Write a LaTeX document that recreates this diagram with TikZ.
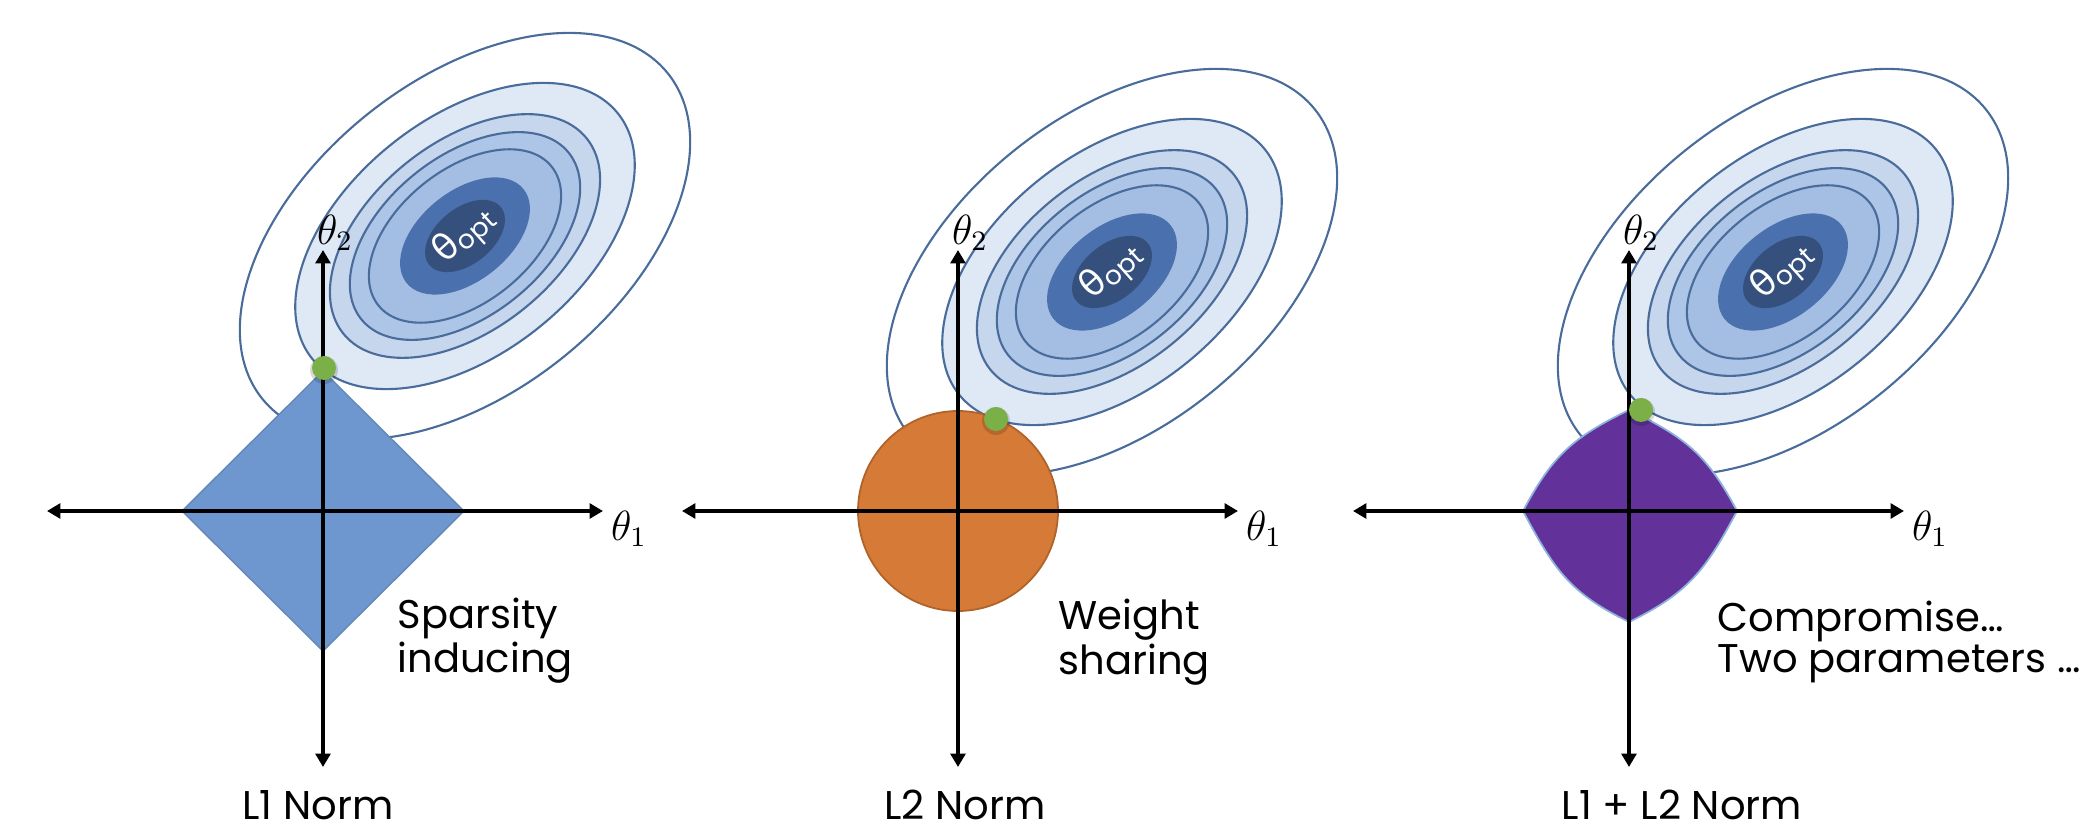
\documentclass[tikz,border=0pt]{standalone}
\usepackage{fontspec}
\setmainfont{Poppins}
\newfontfamily\greekfont{Lato}
\usetikzlibrary{arrows.meta}

\definecolor{ringline}{HTML}{4A6C9B}
\definecolor{ringA}{HTML}{DFE8F5}
\definecolor{ringB}{HTML}{C5D6ED}
\definecolor{ringC}{HTML}{ADC5E7}
\definecolor{ringD}{HTML}{A4BEE3}
\definecolor{optmid}{HTML}{4A70AE}
\definecolor{optdark}{HTML}{35507D}
\definecolor{lonefill}{HTML}{6D97CE}
\definecolor{ltwofill}{HTML}{D57A37}
\definecolor{ltwoline}{HTML}{B0622B}
\definecolor{mixfill}{HTML}{62329A}
\definecolor{mixline}{HTML}{8DB2DE}
\definecolor{dotgreen}{HTML}{7BAF47}

% contour rings of the loss around theta_opt
\newcommand{\lossrings}[1]{%
  \begin{scope}[shift={#1}, rotate=38.7]
    \foreach \a/\col in {260/none,196/ringA,156/ringB,133/ringC,111/ringD}
      \draw[ring, fill=\col] (0,0) ellipse ({\a} and {0.6*\a});
    \fill[optmid] (0,0) ellipse (75 and 45);
    \fill[optdark] (0,0) ellipse (46 and 28);
  \end{scope}}

\begin{document}
\begin{tikzpicture}[x=0.01cm, y=0.01cm,
  ring/.style={draw=ringline, line width=0.6pt},
  axis/.style={line width=1.15pt, {Triangle[length=3.8pt,width=4.2pt]}-{Triangle[length=3.8pt,width=4.2pt]}},
  hit/.style={fill=dotgreen},
  hitshade/.style={fill=black, opacity=0.15},
  thlabel/.style={font=\fontsize{12}{12}\selectfont, inner sep=0pt},
  desc/.style={font=\fontsize{11.4}{11.6}\selectfont, align=left, inner sep=0pt, anchor=north west},
  normlabel/.style={font=\fontsize{11.4}{12}\selectfont, inner sep=0pt, anchor=base},
  opt/.style={text=white, inner sep=0pt, rotate=42}]
\useasboundingbox (0,0) rectangle (2081,836);
\newcommand{\thetaopt}{{\greekfont\fontsize{11}{11}\selectfont θ}\raisebox{-1.5pt}{\fontsize{7.5}{8}\selectfont opt}}

% L1 norm
\lossrings{(465,600)}
\begin{scope}[shift={(323,325)}]
  \filldraw[fill=lonefill, draw=lonefill!90!black, line width=0.4pt] (-141,0) -- (0,140) -- (141,0) -- (0,-140) -- cycle;
  \coordinate (w1) at (-276,0);
  \coordinate (e1) at (280,0);
  \coordinate (s1) at (0,-256);
  \coordinate (n1) at (0,261);
  \draw[axis] (w1) -- (e1);
  \draw[axis] (s1) -- (n1);
  \fill[hitshade] (1,141) circle (14);
  \fill[hit] (1,143) circle (12);
  \node[thlabel] (tha1) at (306,-18) {$\theta_1$};
  \node[thlabel] (thb1) at (12,278) {$\theta_2$};
  \node[desc] (d1) at (74,-86) {Sparsity\\inducing};
  \node[normlabel] (n1lab) at (-5,-309) {L1 Norm};
\end{scope}
\node[opt] (opt1) at (465,600) {\thetaopt};

% L2 norm
\lossrings{(1112,564)}
\begin{scope}[shift={(958,325)}]
  \filldraw[fill=ltwofill, draw=ltwoline, line width=0.5pt] (0,0) circle (100);
  \coordinate (w2) at (-276,0);
  \coordinate (e2) at (280,0);
  \coordinate (s2) at (0,-256);
  \coordinate (n2) at (0,261);
  \draw[axis] (w2) -- (e2);
  \draw[axis] (s2) -- (n2);
  \fill[hitshade] (38,90) circle (14);
  \fill[hit] (38,92) circle (12);
  \node[thlabel] (tha2) at (306,-18) {$\theta_1$};
  \node[thlabel] (thb2) at (12,278) {$\theta_2$};
  \node[desc] (d2) at (100,-87) {Weight\\sharing};
  \node[normlabel] (n2lab) at (7,-309) {L2 Norm};
\end{scope}
\node[opt] (opt2) at (1112,564) {\thetaopt};

% L1 + L2 norm
\lossrings{(1783,564)}
\begin{scope}[shift={(1629,325)}]
  \filldraw[fill=mixfill, draw=mixline, line width=0.5pt, looseness=1.1] (108,0) to[out=118,in=-26] (0,101)
    to[out=206,in=62] (-106,0) to[out=-62,in=154] (0,-111) to[out=26,in=242] (108,0) -- cycle;
  \coordinate (w3) at (-276,0);
  \coordinate (e3) at (275,0);
  \coordinate (s3) at (0,-256);
  \coordinate (n3) at (0,261);
  \draw[axis] (w3) -- (e3);
  \draw[axis] (s3) -- (n3);
  \fill[hitshade] (12,99) circle (14);
  \fill[hit] (12,101) circle (12);
  \node[thlabel] (tha3) at (301,-18) {$\theta_1$};
  \node[thlabel] (thb3) at (12,278) {$\theta_2$};
  \node[desc] (d3) at (88,-89) {Compromise…\\Two parameters …};
  \node[normlabel] (n3lab) at (53,-309) {L1 + L2 Norm};
\end{scope}
\node[opt] (opt3) at (1783,564) {\thetaopt};
\end{tikzpicture}
\end{document}
